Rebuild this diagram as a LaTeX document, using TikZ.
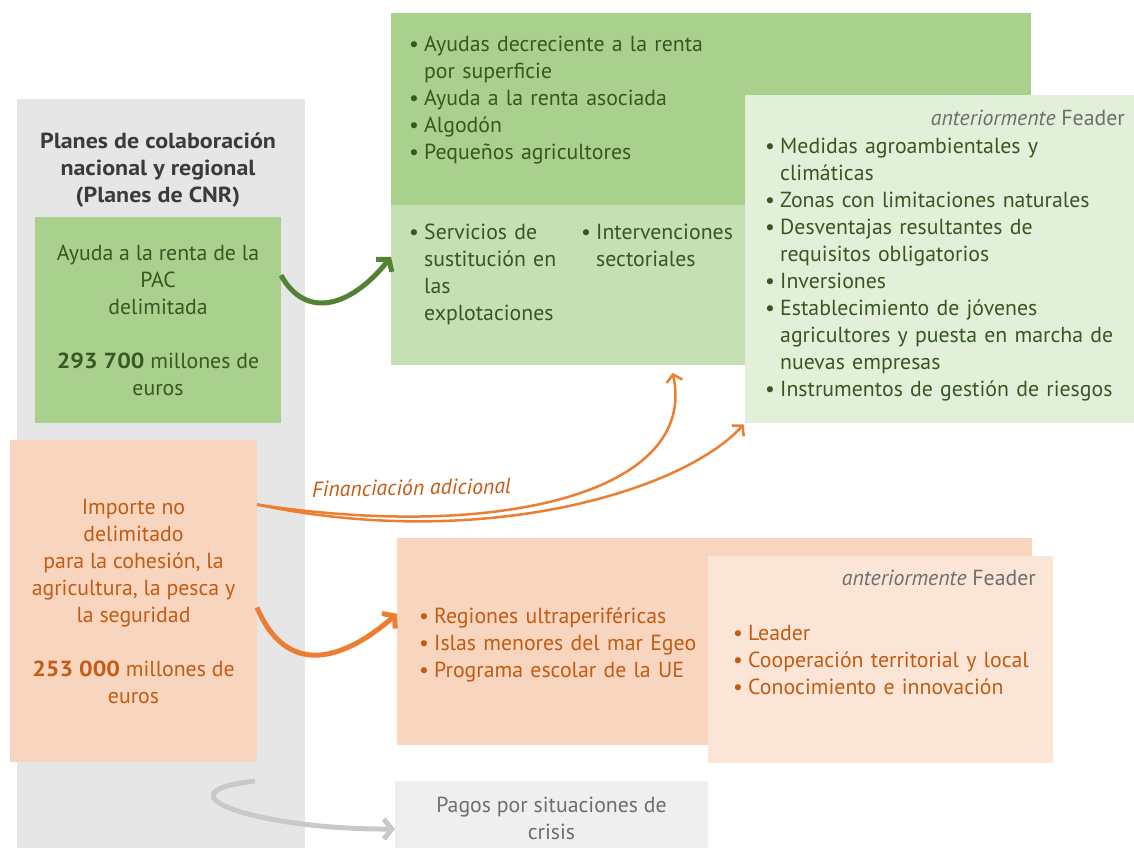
\documentclass[tikz,border=0pt]{standalone}
\usepackage{fontspec}
\setmainfont{PT Sans}[BoldFeatures={FakeStretch=1.1}]
\usetikzlibrary{arrows.meta}
\definecolor{colgray}{HTML}{E6E6E6}
\definecolor{greenA}{HTML}{A9D18E}
\definecolor{greenB}{HTML}{C5E0B4}
\definecolor{greenC}{HTML}{E2F0D9}
\definecolor{greenT}{HTML}{385723}
\definecolor{greenL}{HTML}{548235}
\definecolor{orangeA}{HTML}{F8D5BE}
\definecolor{orangeB}{HTML}{FBE5D6}
\definecolor{orangeT}{HTML}{C55A11}
\definecolor{orangeL}{HTML}{ED7D31}
\definecolor{grayBox}{HTML}{EFEFEF}
\definecolor{grayT}{HTML}{6E6E6E}
\definecolor{grayL}{HTML}{C9C9C9}
\definecolor{titleT}{HTML}{3B3B3B}
\newcommand{\bul}[1]{\par\hangindent=15pt\hangafter=1\noindent\hbox to 15pt{\textbullet\hfil}#1\par}

\begin{document}
\begin{tikzpicture}[x=1pt, y=-1pt, font=\fontsize{21.8}{27}\selectfont,
    box/.style={inner sep=0pt, outer sep=0pt, anchor=north west},
    lst/.style={inner sep=0pt, anchor=base west, align=left, text width=#1},
    thk/.style={line width=5pt, -{Straight Barb[length=8pt,width=20pt]}},
    thn/.style={line width=2.5pt, -{Straight Barb[length=7pt,width=16pt]}}]
      \useasboundingbox (0,0) rectangle (1134,847);

      \node [box, fill=colgray, minimum width=288, minimum height=760] (col) at (17,99) {};
      \node [text=titleT, font=\fontsize{21.8}{27}\selectfont\bfseries, align=center] (tit) at (158,170)
            {Planes de colaboración\\nacional y regional\\(Planes de CNR)};
      \node [box, fill=greenA, text=greenT, align=center, minimum width=246, minimum height=206] (pac) at (35,217)
            {Ayuda a la renta de la\\PAC\\delimitada\\[27pt]\textbf{293 700} millones de\\euros};
      \node [box, fill=orangeA, text=orangeT, align=center, minimum width=247, minimum height=322] (imp) at (10,440)
            {Importe no\\delimitado\\para la cohesión, la\\agricultura, la pesca y\\la seguridad\\[27pt]\textbf{253 000} millones de\\euros};

      \node [box, fill=greenA, minimum width=640, minimum height=192] (dir) at (391,13) {};
      \node [box, fill=greenB, minimum width=355, minimum height=160] (mid) at (391,205) {};
      \node [box, fill=greenC, minimum width=389, minimum height=328] (fea) at (745,95) {};
      \node [lst=340pt, text=greenT] (dirl) at (409,24)
            {\bul{Ayudas decreciente a la renta\newline por superficie}\bul{Ayuda a la renta asociada}\bul{Algodón}\bul{Pequeños agricultores}};
      \node [lst=165pt, text=greenT] (midl) at (409,212)
            {\bul{Servicios de\newline sustitución en\newline las\newline explotaciones}};
      \node [lst=165pt, text=greenT] (midr) at (581,212)
            {\bul{Intervenciones\newline sectoriales}};
      \node [anchor=base east, inner sep=0pt, text=grayT] (feah) at (1125,125) {\textit{anteriormente} Feader};
      \node [lst=375pt, text=greenT] (feal) at (765,126)
            {\bul{Medidas agroambientales y\newline climáticas}\bul{Zonas con limitaciones naturales}\bul{Desventajas resultantes de\newline requisitos obligatorios}\bul{Inversiones}\bul{Establecimiento de jóvenes\newline agricultores y puesta en marcha de\newline nuevas empresas}\bul{Instrumentos de gestión de riesgos}};

      \node [box, fill=orangeA, minimum width=635, minimum height=207] (reg) at (397,538) {};
      \node [box, fill=orangeB, minimum width=345, minimum height=207] (lea) at (708,556) {};
      \node [lst=300pt, text=orangeT] (regl) at (419,596)
            {\bul{Regiones ultraperiféricas}\bul{Islas menores del mar Egeo}\bul{Programa escolar de la UE}};
      \node [anchor=base east, inner sep=0pt, text=grayT] (leah) at (1036,585) {\textit{anteriormente} Feader};
      \node [lst=315pt, text=orangeT] (leal) at (733,613)
            {\bul{Leader}\bul{Cooperación territorial y local}\bul{Conocimiento e innovación}};

      \node [box, fill=grayBox, text=grayT, align=center, minimum width=313, minimum height=74] (cris) at (395,781)
            {Pagos por situaciones de\\crisis};

      \draw [thk, greenL] (pac.20) .. controls +(25,45) and +(-40,50) .. (mid.171);
      \draw [thk, orangeL] (imp.-3) .. controls +(32,75) and +(-48,42) .. (reg.175);
      \draw [thn, orangeL, shorten >=8pt] (imp.38) .. controls +(243,37) and +(28,127) .. (mid.-38);
      \draw [thn, orangeL, shorten >=2pt] (imp.38) .. controls +(223,47) and +(-63,69) .. (fea.south west);
      \node [anchor=base west, inner sep=0pt, text=orangeT, font=\fontsize{21.8}{27}\selectfont\itshape, rotate=1] (fin) at (312,497)
            {Financiación adicional};

      \coordinate (crs) at (255,781);
      \draw [thk, grayL] (crs) .. controls +(-105,12) and +(-135,1) .. (cris.184);
    \end{tikzpicture}
\end{document}
